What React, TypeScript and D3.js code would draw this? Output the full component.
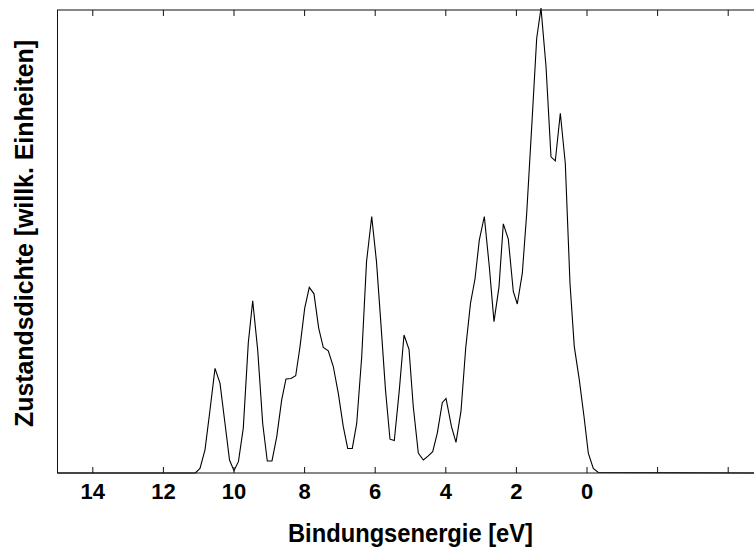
import React from "react";
import * as d3 from "d3";

// Binding energy (eV) and density of states (arbitrary units)
const energies: number[] = [
  15.0, 11.096, 10.963, 10.822, 10.68, 10.538, 10.397, 10.255, 10.127, 10.0, 9.873,
  9.737, 9.595, 9.47, 9.329, 9.187, 9.057, 8.924, 8.79, 8.649, 8.527,
  8.385, 8.252, 8.13, 7.997, 7.867, 7.734, 7.601, 7.47, 7.329, 7.187,
  7.045, 6.904, 6.779, 6.649, 6.524, 6.382, 6.246, 6.099, 5.963, 5.836,
  5.708, 5.581, 5.459, 5.317, 5.184, 5.042, 4.921, 4.779, 4.637, 4.496,
  4.371, 4.241, 4.099, 3.994, 3.839, 3.711, 3.569, 3.436, 3.3, 3.173,
  3.051, 2.909, 2.768, 2.635, 2.493, 2.371, 2.229, 2.088, 1.975, 1.833,
  1.708, 1.567, 1.425, 1.303, 1.161, 1.02, 0.898, 0.756, 0.615, 0.482,
  0.36, 0.218, 0.085, -0.037, -0.178, -0.32, -5.0,
];
const dos: number[] = [
  0, 0, 0.01, 0.05, 0.136, 0.226, 0.194, 0.107, 0.028, 0.005, 0.025,
  0.097, 0.281, 0.372, 0.266, 0.107, 0.026, 0.026, 0.078, 0.158, 0.203,
  0.204, 0.21, 0.273, 0.356, 0.401, 0.387, 0.313, 0.271, 0.264, 0.23,
  0.172, 0.1, 0.053, 0.053, 0.107, 0.251, 0.456, 0.554, 0.456, 0.32,
  0.179, 0.073, 0.07, 0.179, 0.298, 0.267, 0.143, 0.043, 0.028, 0.037,
  0.046, 0.086, 0.152, 0.161, 0.1, 0.066, 0.134, 0.27, 0.367, 0.419,
  0.503, 0.554, 0.446, 0.327, 0.402, 0.538, 0.505, 0.392, 0.365, 0.431,
  0.561, 0.747, 0.939, 1.004, 0.878, 0.683, 0.674, 0.777, 0.669, 0.41,
  0.273, 0.201, 0.122, 0.043, 0.01, 0.001, 0,
];
const tickValues: number[] = [14, 12, 10, 8, 6, 4, 2, 0, -2, -4];
const tickLabels: string[] = ["14", "12", "10", "8", "6", "4", "2", "0", "", ""];
const xTitle = "Bindungsenergie [eV]";
const yTitle = "Zustandsdichte [willk. Einheiten]";

export default function App() {
  const W = 754;
  const H = 549;
  const left = 57.5;
  const right = 763.5;
  const top = 10;
  const bottom = 473;

  const x = d3.scaleLinear().domain([15, -5]).range([left, right]);
  const y = d3.scaleLinear().domain([0, 1]).range([bottom, top]);

  const pts: [number, number][] = energies.map((e, i) => [e, dos[i]]);
  const path =
    d3
      .line<[number, number]>()
      .x((d) => x(d[0]))
      .y((d) => y(d[1]))(pts) || "";

  const font = "'Liberation Sans', Arial, Helvetica, sans-serif";

  return (
    <svg
      width={W}
      height={H}
      style={{ position: "absolute", left: 0, top: 0, display: "block", background: "#fff" }}
    >
      <rect x={0} y={0} width={W} height={H} fill="#fff" />
      <path d={path} fill="none" stroke="#000" strokeWidth={1.1} strokeLinejoin="miter" />
      <rect
        x={left}
        y={top}
        width={right - left}
        height={bottom - top}
        fill="none"
        stroke="#111"
        strokeWidth={1}
      />
      {tickValues.map((t, i) => (
        <g key={i}>
          <line x1={x(t)} x2={x(t)} y1={bottom} y2={bottom - 6} stroke="#111" strokeWidth={1} />
          <line x1={x(t)} x2={x(t)} y1={top} y2={top + 6} stroke="#111" strokeWidth={1} />
          {tickLabels[i] !== "" && (
            <text
              x={x(t)}
              y={499}
              textAnchor="middle"
              fontFamily={font}
              fontWeight="bold"
              fontSize={22}
              fill="#000"
            >
              {tickLabels[i]}
            </text>
          )}
        </g>
      ))}
      <text
        x={(left + right) / 2}
        y={542}
        textAnchor="middle"
        fontFamily={font}
        fontWeight="bold"
        fontSize={26}
        textLength={245}
        lengthAdjust="spacingAndGlyphs"
        fill="#000"
      >
        {xTitle}
      </text>
      <text
        transform={`translate(33,233.5) rotate(-90)`}
        textAnchor="middle"
        fontFamily={font}
        fontWeight="bold"
        fontSize={25}
        textLength={387}
        lengthAdjust="spacingAndGlyphs"
        fill="#000"
      >
        {yTitle}
      </text>
    </svg>
  );
}
